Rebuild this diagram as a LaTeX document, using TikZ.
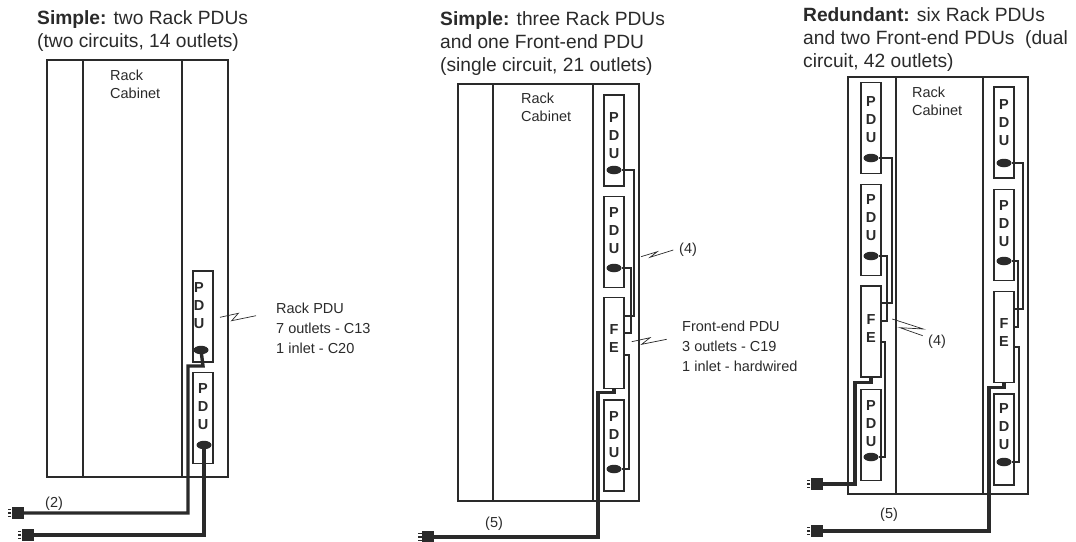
\documentclass[tikz,border=0pt]{standalone}
\usepackage{fontspec}
\setmainfont{Liberation Sans}
\usetikzlibrary{
  positioning,
  shapes.geometric
}
\definecolor{ink}{HTML}{2A2A2A}

\begin{document}
\begin{tikzpicture}[
x=1pt,y=-1pt,
rack/.style={
draw=ink,
line width=1.3pt,
minimum width=181pt,
minimum height=417pt,
inner sep=0pt
},
letters/.style={
font=\fontsize{14.5}{18}\selectfont\bfseries,
align=center,
text=ink,
inner sep=0pt
},
pdu/.style={
draw=ink,
line width=1.3pt,
minimum width=20pt,
minimum height=91pt,
inner sep=0pt,
label={[letters,#1]center:P\\D\\U}
},
pdu/.default={yshift=11pt},
fe/.style={
draw=ink,
line width=1.3pt,
minimum width=20pt,
minimum height=91pt,
inner sep=0pt,
label={[letters,#1]center:F\\E}
},
fe/.default={yshift=5pt},
oval/.style={
ellipse,
fill=ink,
minimum width=15pt,
minimum height=8.5pt,
inner sep=0pt
},
cord/.style={draw=ink,line width=1.2pt},
thickcord/.style={draw=ink,line width=3.4pt},
plug/.style={
fill=ink,
minimum width=12pt,
minimum height=12.5pt,
inner sep=0pt
},
pin/.style={draw=ink,line width=1.7pt},
leader/.style={draw=ink,line width=0.7pt},
title/.style={
anchor=north west,
align=left,
inner sep=0pt,
text=ink,
font=\fontsize{19.2}{23}\selectfont
},
legend/.style={
anchor=north west,
align=left,
inner sep=0pt,
text=ink,
font=\fontsize{14.5}{20}\selectfont
},
cabinet/.style={legend,font=\fontsize{14.5}{18}\selectfont}
]
\useasboundingbox (0,0) rectangle (1076,541);

% titles
\node[title] (tleft) at (37,10)
{\textbf{Simple:} two Rack PDUs\\(two circuits, 14 outlets)};
\node[title] (tmid) at (440,11)
{\textbf{Simple:} three Rack PDUs\\and one Front-end PDU\\(single circuit, 21 outlets)};
\node[title] (tright) at (803,7)
{\textbf{Redundant:} six Rack PDUs\\and two Front-end PDUs\ \ (dual\\circuit, 42 outlets)};

% racks
\node[rack] (rleft) at (137.5,268.5) {};
\node[rack] (rmid) at (548.5,292.5) {};
\node[rack,minimum width=180pt] (rright) at (938,285.5) {};

\draw[rack] (83,0 |- rleft.north) -- (83,0 |- rleft.south);
\draw[rack] (182,0 |- rleft.north) -- (182,0 |- rleft.south);
\draw[rack] (493,0 |- rmid.north) -- (493,0 |- rmid.south);
\draw[rack] (593,0 |- rmid.north) -- (593,0 |- rmid.south);
\draw[rack] (896,0 |- rright.north) -- (896,0 |- rright.south);
\draw[rack] (983,0 |- rright.north) -- (983,0 |- rright.south);

\node[cabinet] (cleft) at (110,69.5) {Rack\\Cabinet};
\node[cabinet] (cmid) at (521,93) {Rack\\Cabinet};
\node[cabinet] (cright) at (912,87) {Rack\\Cabinet};

% left rack
\node[pdu={xshift=-4pt,yshift=11pt}] (la) at (203,316.5) {};
\node[pdu,below=9pt of la] (lb) {};
\node[oval] (ola) at (201,350) {};
\node[oval] (olb) at (204,445) {};

% middle rack
\node[pdu={yshift=5pt}] (ma) at (614,140.5) {};
\node[pdu,below=9pt of ma] (mb) {};
\node[fe,below=9pt of mb] (mf) {};
\node[pdu,below=10pt of mf] (mc) {};
\node[oval] (oma) at (614,170) {};
\node[oval] (omb) at (614,268) {};
\node[oval] (omc) at (614,469) {};

% right rack, left side
\node[pdu={yshift=8pt}] (ra) at (871,128) {};
\node[pdu={yshift=13pt},below=10pt of ra] (rb) {};
\node[fe={yshift=3.5pt},below=9pt of rb] (rf) {};
\node[pdu,below=11pt of rf] (rc) {};
\node[oval] (ora) at (871,158) {};
\node[oval] (orb) at (871,256) {};
\node[oval] (orc) at (871,457) {};

% right rack, right side
\node[pdu={yshift=10pt}] (sa) at (1004,132.5) {};
\node[pdu,below=10pt of sa] (sb) {};
\node[fe={yshift=4.5pt},below=10pt of sb] (sf) {};
\node[pdu={yshift=13pt},below=10pt of sf] (sc) {};
\node[oval] (osa) at (1004,163) {};
\node[oval] (osb) at (1004,261) {};
\node[oval] (osc) at (1004,462) {};

% thin cords
\draw[cord] (oma) -| (634,316) -- (mf.east |- 634,316);
\draw[cord] (omb) -| (631,333) -- (mf.east |- 631,333);
\draw[cord] (omc) -| (629,355) -- (mf.east |- 629,355);
\draw[cord] (ora) -| (892,303) -- (rf.east |- 892,303);
\draw[cord] (orb) -| (887,321) -- (rf.east |- 887,321);
\draw[cord] (orc) -| (885,342) -- (rf.east |- 885,342);
\draw[cord] (osa) -| (1023,309) -- (sf.east |- 1023,309);
\draw[cord] (osb) -| (1018,327) -- (sf.east |- 1018,327);
\draw[cord] (osc) -| (1019,347) -- (sf.east |- 1019,347);

% plugs
\node[plug] (pa) at (17.5,513) {};
\node[plug] (pb) at (27.5,535) {};
\node[plug] (pc) at (428,537) {};
\node[plug] (pd) at (816.5,484) {};
\node[plug] (pe) at (816.5,531) {};

\foreach \p in {pa,pb,pc,pd,pe}
\foreach \d in {-3.5,0,3.5}
\draw[pin] (\p.west) ++(0,\d) -- ++(-3.5,0);

% thick cords
\draw[thickcord] (ola.center) -- (203,366) -- (188,366) -- (188,513) -- (pa.east);
\draw[thickcord] (olb.center) -- (204,535) -- (pb.east);
\draw[thickcord] (mf.south) -- ++(0,3) -| (598,537) -- (pc.east);
\draw[thickcord] (rf.south) -- ++(0,5) -| (855,484) -- (pd.east);
\draw[thickcord] (sf.south) -- ++(0,4) -| (989,531) -- (pe.east);

% leaders
\coordinate (ua) at (220,317.3);
\coordinate (ub) at (256,315.7);
\draw[leader] (ua) -- (238.3,313.3) -- (231.7,320.7) -- (ub);
\coordinate (va) at (641,256.7);
\coordinate (vb) at (673.3,250);
\draw[leader] (va) -- (657.3,251.7) -- (650,257.3) -- (vb);
\coordinate (wa) at (631.7,341.7);
\coordinate (wb) at (666.7,339.3);
\draw[leader] (wa) -- (650,337.7) -- (641.7,344.3) -- (wb);
\coordinate (za) at (892.3,319);
\coordinate (zb) at (922.7,335.7);
\draw[leader] (za) -- (923.3,329) -- (900,327.7) -- (zb);

% notes
\node[legend] (nrack) at (276,303) {Rack PDU\\7 outlets - C13\\1 inlet - C20};
\node[legend] (nfe) at (682,321) {Front-end PDU\\3 outlets - C19\\1 inlet - hardwired};
\node[legend] (nb) at (45,497) {(2)};
\node[legend] (nc) at (679,243) {(4)};
\node[legend] (nd) at (928,335) {(4)};
\node[legend] (ne) at (485,517) {(5)};
\node[legend] (nf) at (880,508) {(5)};

\end{tikzpicture}
\end{document}
